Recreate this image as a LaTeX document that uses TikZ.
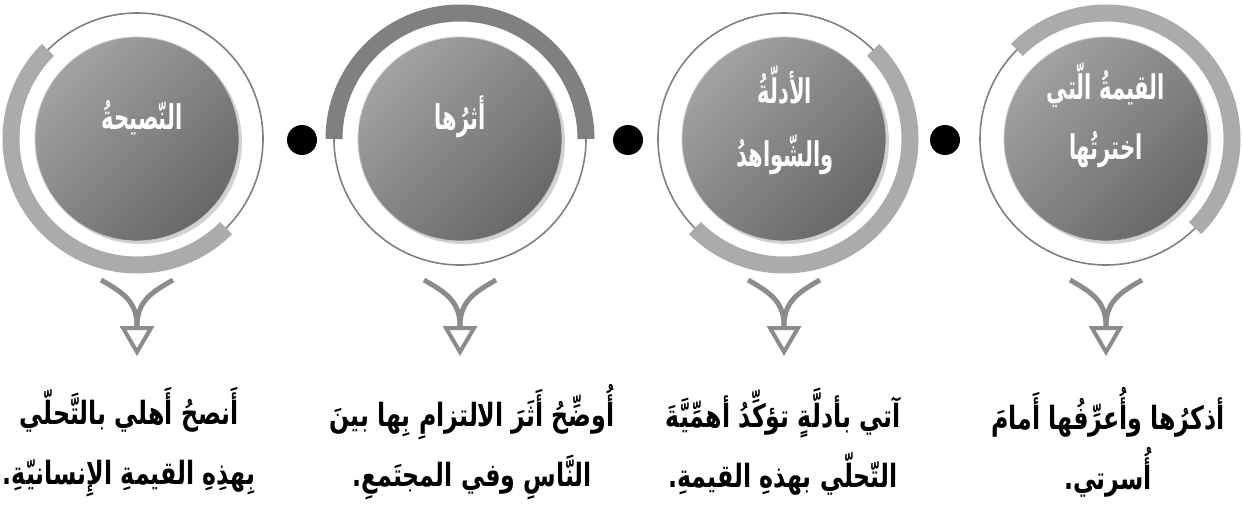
\documentclass[tikz,border=0pt]{standalone}
\usepackage{fontspec}
\usetikzlibrary{shadows,calc}
\TeXXeTstate=1
\newfontfamily\arabicbody[Script=Arabic,FakeStretch=0.74]{DejaVu Sans}
\newfontfamily\arabictitle[Script=Arabic,FakeStretch=0.62]{DejaVu Sans}
\definecolor{diskL}{HTML}{A2A2A2}
\definecolor{diskD}{HTML}{686868}
\definecolor{diskRim}{HTML}{C8C8C8}
\definecolor{ringC}{HTML}{808080}
\definecolor{arcL}{HTML}{ABABAB}
\definecolor{arcD}{HTML}{808080}
\definecolor{chevC}{HTML}{8C8C8C}
\begin{document}
\begin{tikzpicture}[x=1pt,y=1pt,
  disk/.style={circle, minimum size=204pt, inner sep=0pt, shading=axis, top color=diskL, bottom color=diskD, shading angle=45, draw=diskRim, line width=0.8pt, drop shadow={opacity=0.35, shadow xshift=3pt, shadow yshift=-3pt}},
  ring/.style={draw=ringC, line width=1.6pt},
  thickarc/.style={line width=17pt, draw=arcL},
  dotnode/.style={circle, fill=black, minimum size=30pt, inner sep=0pt},
  chev/.style={draw=chevC, line width=5pt},
  tri/.style={draw=chevC, line width=4pt, line join=miter},
  title/.style={text=white, font=\arabictitle\bfseries\fontsize{34}{60}\selectfont, align=center, inner sep=0pt},
  wide title/.style={title, font=\arabictitle\bfseries\fontsize{34}{63}\selectfont},
  body/.style={text=black, font=\arabicbody\bfseries\fontsize{32}{60}\selectfont, align=center},
]
\useasboundingbox (0,0) rectangle (1242,507);
\fill[white] (0,0) rectangle (1242,507);
% centres
\coordinate (p1) at (1106,368);
\coordinate (p2) at (784,368);
\coordinate (p3) at (460,368);
\coordinate (p4) at (137,368);
% rings
\foreach \i in {1,...,4}{\draw[ring] (p\i) circle[radius=126];}
% thick arcs
\draw[thickarc] (p1) ++(-45:126) arc[start angle=-45, end angle=135, radius=126];
\draw[thickarc] (p2) ++(-135:126) arc[start angle=-135, end angle=45, radius=126];
\draw[thickarc, draw=arcD] (p3) ++(0:126) arc[start angle=0, end angle=180, radius=126];
\draw[thickarc] (p4) ++(135:126) arc[start angle=135, end angle=315, radius=126];
% disks
\node[disk] (c1) at (p1) {};
\node[disk] (c2) at (p2) {};
\node[disk] (c3) at (p3) {};
\node[disk] (c4) at (p4) {};
% titles (anchor=base is the baseline of the last line)
\node[title, anchor=base] (h1) at (1106,347) {\beginR القيمةُ الّتي\endR\\\beginR اخترتُها\endR};
\node[wide title, anchor=base] (h2) at (785,341) {\beginR الأدلّةُ\endR\\\beginR والشّواهدُ\endR};
\node[title, anchor=base] (h3) at (460,377) {\beginR أثرُها\endR};
\node[title, anchor=base] (h4) at (142,377) {\beginR النّصيحةُ\endR};
% dots
\node[dotnode] (d1) at (945,367) {};
\node[dotnode] (d2) at (628,367) {};
\node[dotnode] (d3) at (302,367) {};
% chevrons
\foreach \i in {1,...,4}{
  \coordinate (j\i) at ($(c\i)+(0,-187)$);
  \coordinate (l\i) at ($(c\i)+(-36,-141)$);
  \coordinate (r\i) at ($(c\i)+(36,-141)$);
  \draw[chev] (l\i) .. controls ($(l\i)+(21,-12)$) and ($(j\i)+(0,25)$) .. (j\i);
  \draw[chev] (r\i) .. controls ($(r\i)+(-21,-12)$) and ($(j\i)+(0,25)$) .. (j\i);
  \draw[tri] ($(j\i)+(-14,-2)$) -- ($(j\i)+(14,-2)$) -- ($(j\i)+(0,-26)$) -- cycle;
}
% body texts
\node[body] (t1) at (1108,65) {\beginR أذكرُها وأُعرِّفُها أَمامَ\endR\\\beginR أُسرتي.\endR};
\node[body] (t2) at (783,65) {\beginR آتي بأدلَّةٍ تؤكِّدُ أهمِّيَّةَ\endR\\\beginR التّحلّي بهذهِ القيمةِ.\endR};
\node[body] (t3) at (472,65) {\beginR أُوضِّحُ أَثَرَ الالتزامِ بِها بينَ\endR\\\beginR النَّاسِ وفي المجتَمعِ.\endR};
\node[body] (t4) at (129,65) {\beginR أَنصحُ أَهلي بالتَّحلّي\endR\\\beginR بِهذِهِ القيمةِ الإِنسانيّةِ.\endR};
\end{tikzpicture}
\end{document}
